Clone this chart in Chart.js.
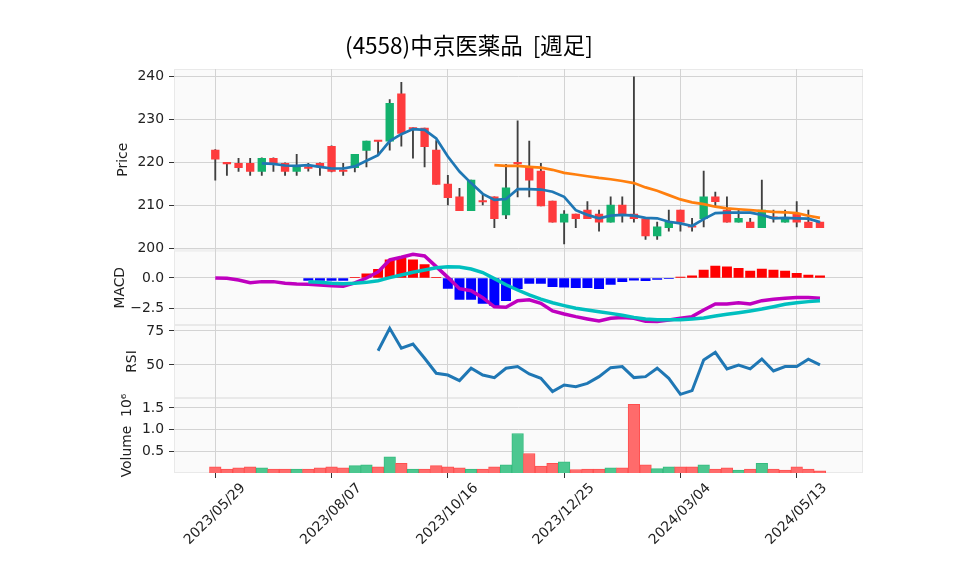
<!DOCTYPE html>
<html><head><meta charset="utf-8">
<script src="https://cdn.jsdelivr.net/npm/chart.js@4"></script>
<style>html,body{margin:0;padding:0;background:#fff}canvas{display:block}</style>
</head><body>
<canvas id="c" width="958" height="575"></canvas>
<script>
const dates = ['2023/05/29','2023/06/05','2023/06/12','2023/06/19','2023/06/26','2023/07/03','2023/07/10','2023/07/17','2023/07/24','2023/07/31',
'2023/08/07','2023/08/14','2023/08/21','2023/08/28','2023/09/04','2023/09/11','2023/09/18','2023/09/25','2023/10/02','2023/10/09',
'2023/10/16','2023/10/23','2023/10/30','2023/11/06','2023/11/13','2023/11/20','2023/11/27','2023/12/04','2023/12/11','2023/12/18',
'2023/12/25','2024/01/01','2024/01/08','2024/01/15','2024/01/22','2024/01/29','2024/02/05','2024/02/12','2024/02/19','2024/02/26',
'2024/03/04','2024/03/11','2024/03/18','2024/03/25','2024/04/01','2024/04/08','2024/04/15','2024/04/22','2024/04/29','2024/05/06',
'2024/05/13','2024/05/20','2024/05/27'];
const xTickIdx = [0,10,20,30,40,50];

const open  = [222.9,219.9,219.8,219.8,217.9,221.0,219.8,217.9,219.0,219.8, 223.8,218.1,218.8,222.8,225.1,225.0,236.0,228.1,228.0,222.9, 215.0,212.0,208.8,211.0,212.0,207.8,219.9,219.0,218.0,211.0, 206.1,208.0,208.9,208.0,206.1,210.1,208.0,206.9,202.9,204.8, 208.9,205.1,206.9,212.0,208.9,206.1,206.1,204.8,207.2,206.1, 208.0,206.1,206.1];
const high  = [223.0,220.0,221.0,221.0,221.1,221.1,219.9,221.9,219.8,219.9, 223.9,219.8,221.9,225.0,225.1,234.7,238.7,228.1,228.0,225.1, 217.0,214.0,215.9,212.4,212.0,219.6,229.7,225.0,219.8,211.0, 208.8,208.0,210.9,208.9,212.0,212.0,240.0,206.9,206.1,208.9, 208.9,207.0,218.0,213.1,212.0,208.9,207.0,215.9,208.9,208.9, 210.9,208.9,206.1];
const low   = [215.9,217.0,217.9,217.0,217.0,217.9,217.0,217.0,218.0,217.0, 217.8,217.0,217.8,219.0,221.7,222.9,223.8,221.0,219.0,214.9, 210.1,208.8,208.8,210.1,204.8,206.9,212.0,212.0,209.9,206.1, 201.0,204.8,206.9,204.0,206.1,206.1,206.1,202.1,202.1,204.0, 204.0,204.0,205.0,209.7,206.1,206.1,204.8,204.8,206.1,206.1, 205.0,204.8,204.8];
const close = [220.8,219.7,218.8,217.9,221.0,219.8,217.9,219.0,218.6,219.0, 217.9,217.9,221.9,225.0,224.9,233.8,226.8,227.8,223.7,214.9, 211.8,208.8,215.9,210.8,206.9,214.1,219.7,215.9,209.9,206.1, 208.0,206.9,206.9,206.1,210.1,207.6,206.9,202.9,205.0,206.1, 206.1,204.9,212.0,210.9,206.1,207.0,204.8,208.9,207.0,207.0, 206.1,204.8,204.8];

const maShort = [null,null,null,null,219.8,219.7,219.3,219.2,219.4,219.0, 218.6,218.6,219.1,220.4,221.7,225.0,226.6,227.8,227.6,225.6, 221.4,217.9,215.2,212.7,211.3,211.5,213.8,213.8,213.7,213.2, 212.0,208.9,207.8,207.0,207.6,207.8,207.6,207.1,207.0,206.2, 205.8,205.2,206.8,208.2,208.3,208.3,208.3,207.8,207.0,207.1, 207.0,206.9,206.1];
const maLong = [null,null,null,null,null,null,null,null,null,null, null,null,null,null,null,null,null,null,null,null, null,null,null,null,219.4,219.2,219.2,219.0,218.8,218.3, 217.6,217.2,216.8,216.4,216.1,215.7,215.2,214.2,213.4,212.4, 211.4,210.7,210.3,209.7,209.3,209.1,208.9,208.7,208.5,208.4, 208.2,207.6,207.1];

const macd = [0.0,-0.03,-0.17,-0.39,-0.30,-0.30,-0.44,-0.50,-0.52,-0.58, -0.63,-0.69,-0.40,0.0,0.5,1.49,1.71,1.96,1.82,0.94, 0.05,-0.88,-1.05,-1.62,-2.38,-2.42,-1.87,-1.80,-2.09,-2.72, -2.97,-3.19,-3.38,-3.55,-3.33,-3.27,-3.33,-3.58,-3.60,-3.47, -3.33,-3.19,-2.64,-2.15,-2.15,-2.04,-2.15,-1.87,-1.76,-1.68, -1.62,-1.62,-1.68];
const signal = [null,null,null,null,null,null,null,null,-0.30,-0.36, -0.44,-0.47,-0.44,-0.36,-0.22,0.03,0.25,0.47,0.66,0.85, 0.92,0.90,0.74,0.45,-0.05,-0.56,-0.99,-1.40,-1.74,-2.04, -2.28,-2.50,-2.64,-2.78,-2.92,-3.08,-3.25,-3.38,-3.44,-3.44, -3.44,-3.38,-3.30,-3.14,-3.00,-2.86,-2.72,-2.56,-2.37,-2.17, -2.04,-1.95,-1.87];
const hist = [null,null,null,null,null,null,null,null,-0.20,-0.20, -0.20,-0.20,0.05,0.35,0.72,1.50,1.62,1.49,1.10,0.06, -0.85,-1.76,-1.76,-2.09,-2.28,-1.87,-0.88,-0.44,-0.44,-0.72, -0.76,-0.80,-0.80,-0.88,-0.52,-0.30,-0.17,-0.22,-0.12,-0.02, 0.08,0.17,0.66,0.99,0.93,0.80,0.58,0.74,0.66,0.58, 0.39,0.25,0.17];

const rsi = [null,null,null,null,null,null,null,null,null,null, null,null,null,null,60.5,77.0,62.3,65.4,54.9,43.9, 42.6,38.5,47.6,42.6,40.7,47.6,48.8,43.4,40.2,30.4, 35.3,34.0,36.5,41.4,48.0,48.8,40.7,41.4,47.6,40.2, 28.4,31.1,53.7,59.3,47.1,50.0,47.1,54.4,45.6,48.8, 48.8,54.2,50.0];

const volume = [0.14,0.09,0.12,0.14,0.12,0.09,0.09,0.09,0.09,0.12, 0.14,0.12,0.17,0.19,0.14,0.37,0.22,0.09,0.09,0.17, 0.14,0.12,0.09,0.09,0.14,0.19,0.91,0.45,0.16,0.22, 0.26,0.08,0.09,0.09,0.12,0.12,1.58,0.19,0.10,0.14, 0.14,0.14,0.19,0.09,0.12,0.07,0.09,0.22,0.09,0.07, 0.14,0.09,0.05];
const volumeUp = [0,0,0,0,1,0,0,1,0,0, 0,0,1,1,0,1,0,1,0,0, 0,0,1,0,0,1,1,0,0,0, 1,0,0,0,1,0,0,0,1,1, 0,0,1,0,0,1,0,1,0,0, 0,0,0];

const priceTicks = [200,210,220,230,240];
const macdTicks = [-2.5,0];
const rsiTicks = [50,75];
const volTicks = [0.5,1.0,1.5];

const UP = '#13b16d', DOWN = '#fe3b3d';
const FONT = 'DejaVu Sans';
const tickFont = {family: FONT, size: 13.9};
const pts = arr => arr.map((v,i) => ({x:i, y:v}));
const minus = s => String(s).replace('-', '\u2212');

const panelBg = {
  id: 'panelBg',
  beforeDraw(chart) {
    const {ctx, chartArea: a, scales} = chart;
    ctx.save();
    ['yP','yM','yR','yV'].forEach(id => {
      const s = scales[id];
      ctx.fillStyle = '#fafafa';
      ctx.fillRect(a.left, s.top, a.right - a.left, s.bottom - s.top);
      ctx.strokeStyle = '#e9e9e9';
      ctx.lineWidth = 1;
      ctx.strokeRect(a.left + 0.5, s.top + 0.5, a.right - a.left - 1, s.bottom - s.top - 1);
    });
    ctx.restore();
  }
};

function yAxis(weight, min, max, ticks, fmt, title, tpad) {
  return {
    type: 'linear', position: 'left', stack: 'panels', stackWeight: weight, min, max,
    afterFit(s) { s.width = 99; },
    afterBuildTicks(s) { s.ticks = ticks.map(v => ({value: v})); },
    ticks: {font: tickFont, color: '#222', padding: 5, autoSkip: false, callback: fmt},
    grid: {color: '#d3d3d3', lineWidth: 1, tickLength: 5, tickColor: '#333', drawTicks: true},
    border: {display: false},
    title: {display: true, text: title, font: tickFont, color: '#222', padding: {top: tpad, bottom: 0}}
  };
}

new Chart(document.getElementById('c'), {
  type: 'bar',
  data: {
    datasets: [
      {type:'line', yAxisID:'yP', data: pts(maShort), borderColor:'#1f77b4', borderWidth:2.7, pointRadius:0, order:0},
      {type:'line', yAxisID:'yP', data: pts(maLong), borderColor:'#ff7f0e', borderWidth:2.7, pointRadius:0, order:0},
      {type:'bar', yAxisID:'yP', data: open.map((o,i) => ({x:i, y:[o, close[i]]})),
        backgroundColor: open.map((o,i) => close[i] > o ? UP : DOWN), barThickness:7.7, minBarLength:1.5, grouped:false, order:1},
      {type:'bar', yAxisID:'yP', data: low.map((l,i) => ({x:i, y:[l, high[i]]})),
        backgroundColor:'#3f3f3f', barThickness:1.2, grouped:false, order:2},
      {type:'line', yAxisID:'yM', data: pts(signal), borderColor:'#00bfbf', borderWidth:3.5, pointRadius:0, order:0},
      {type:'line', yAxisID:'yM', data: pts(macd), borderColor:'#bf00bf', borderWidth:3.5, pointRadius:0, order:1},
      {type:'bar', yAxisID:'yM', data: pts(hist), backgroundColor: hist.map(v => v >= 0 ? '#ff0000' : '#0000ff'),
        barThickness:9.3, grouped:false, order:3},
      {type:'line', yAxisID:'yR', data: pts(rsi), borderColor:'#1f77b4', borderWidth:3, pointRadius:0, order:0},
      {type:'bar', yAxisID:'yV', data: pts(volume),
        backgroundColor: volumeUp.map(u => u ? '#4cc790' : '#ff6b6b'),
        borderColor: volumeUp.map(u => u ? '#34bb7e' : '#ff4f4f'), borderWidth:1,
        barThickness:11.6, grouped:false, order:3}
    ]
  },
  options: {
    responsive: false, animation: false, devicePixelRatio: 1, events: [],
    layout: {padding: {left: 75, right: 95, top: 0, bottom: 0}},
    plugins: {
      legend: {display: false}, tooltip: {enabled: false},
      title: {display: true, text: '(4558)中京医薬品  [週足]', color: '#000',
        font: {family: 'Noto Sans CJK JP', size: 22.5, weight: 'normal'}, padding: {top: 32, bottom: 10}}
    },
    scales: {
      x: {
        type: 'linear', min: -3.55, max: 55.7, offset: false,
        afterBuildTicks(s) { s.ticks = xTickIdx.map(v => ({value: v})); },
        afterFit(s) { s.height = 102; },
        ticks: {font: tickFont, color: '#222', minRotation: 45, maxRotation: 45, autoSkip: false,
          labelOffset: 28, padding: 2, callback: v => dates[v]},
        grid: {color: '#d3d3d3', lineWidth: 1, tickLength: 5, tickColor: '#333', offset: false},
        border: {display: false}
      },
      yV: yAxis(75, 0, 1.728, volTicks, v => v.toFixed(1), 'Volume  10\u2076', 44),
      yR: yAxis(73, 25.7, 79.4, rsiTicks, v => String(v), 'RSI', 49),
      yM: yAxis(74.5, -3.88, 2.27, macdTicks, v => minus(v.toFixed(1)), 'MACD', 37),
      yP: yAxis(181.5, 199.49, 241.8, priceTicks, v => String(v), 'Price', 40)
    }
  },
  plugins: [panelBg]
});
</script>
</body></html>
